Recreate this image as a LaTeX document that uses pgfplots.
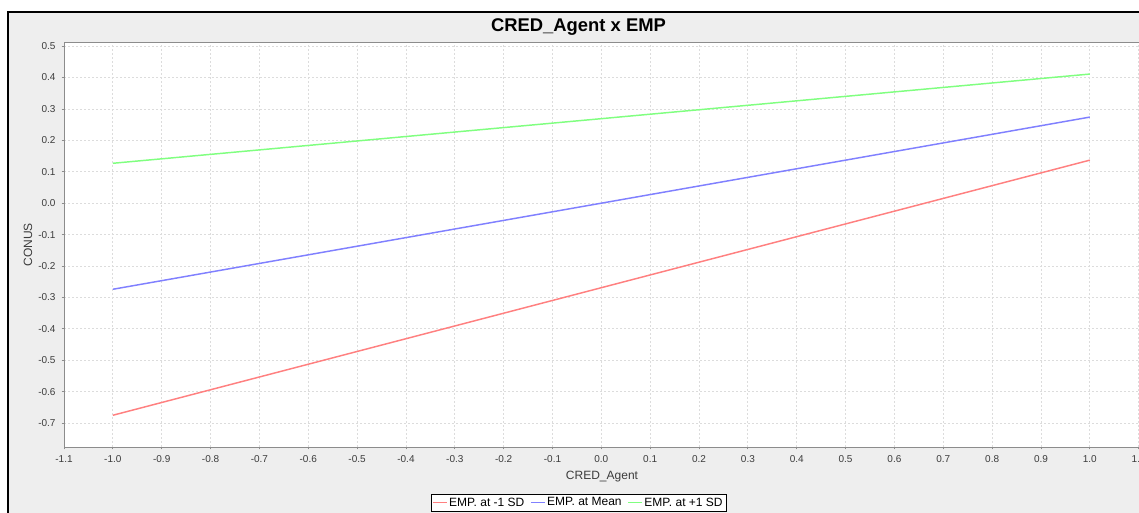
\documentclass[border=0pt]{standalone}
\usepackage{fontspec}
\setmainfont{Liberation Sans}
\usepackage{pgfplots}
\pgfplotsset{compat=1.18}
\definecolor{panel}{RGB}{238,238,238}
\definecolor{gridc}{RGB}{220,220,220}
\definecolor{axc}{RGB}{140,140,140}
\definecolor{tickc}{RGB}{60,60,60}
\definecolor{lred}{RGB}{255,128,128}
\definecolor{lblue}{RGB}{128,128,255}
\definecolor{lgreen}{RGB}{128,255,128}
\begin{document}
\begin{tikzpicture}[x=0.75pt,y=0.75pt]
\useasboundingbox (0,0) rectangle (1139,513);
\clip (0,0) rectangle (1139,513);
\fill[panel] (8,-5) rectangle (1160,501);
\draw[black,line width=0.9pt] (8,-5) -- (8,501) -- (1160,501);
\begin{axis}[
  at={(48pt,49.5pt)}, anchor=south west,
  scale only axis,
  width=808.5pt, height=303.75pt,
  xmin=-1.1, xmax=1.1068,
  ymin=-0.776, ymax=0.513,
  axis background/.style={fill=white},
  axis line style={axc, line width=0.6pt},
  xtick={-1.1,-1.0,-0.9,-0.8,-0.7,-0.6,-0.5,-0.4,-0.3,-0.2,-0.1,0,0.1,0.2,0.3,0.4,0.5,0.6,0.7,0.8,0.9,1.0,1.1},
  ytick={-0.7,-0.6,-0.5,-0.4,-0.3,-0.2,-0.1,0,0.1,0.2,0.3,0.4,0.5},
  xtick pos=bottom, ytick pos=left,
  tick align=outside,
  major tick length=1.8pt,
  tick style={axc, line width=0.6pt},
  grid=major,
  major grid style={gridc, line width=0.6pt, dash pattern=on 1.5pt off 1.5pt},
  /pgf/number format/assume math mode=true,
  /pgf/number format/.cd, fixed, fixed zerofill, precision=1, /pgfplots/.cd,
  tick label style={font=\fontsize{7.5}{9}\selectfont, text=tickc},
  xticklabel style={yshift=-1pt},
  yticklabel style={xshift=-1pt},
  legend style={at={(axis description cs:0.4773,0)}, anchor=north, yshift=-35.2pt,
    draw=black, line width=0.6pt, fill=white, inner sep=1pt,
    font=\fontsize{9}{10}\selectfont, legend cell align=left,
    nodes={inner sep=1.5pt}},
  legend columns=3,
  legend image code/.code={\draw[#1, line width=0.6pt] (0pt,0pt) -- (10.5pt,0pt);},
  /tikz/every even column/.append style={column sep=3pt},
]
\addplot[lred, line width=1.1pt] coordinates {(-1.0,-0.675) (1.0,0.137)};
\addlegendentry{EMP. at -1 SD}
\addplot[lblue, line width=1.1pt] coordinates {(-1.0,-0.274) (1.0,0.274)};
\addlegendentry{EMP. at Mean}
\addplot[lgreen, line width=1.1pt] coordinates {(-1.0,0.127) (1.0,0.411)};
\addlegendentry{EMP. at +1 SD}
\end{axis}
\node[font=\bfseries\fontsize{13.8}{16}\selectfont] at (578.5,486) {CRED\_Agent x EMP};
\node[font=\fontsize{9}{11}\selectfont, text=tickc] at (602,36) {CRED\_Agent};
\node[font=\fontsize{9}{11}\selectfont, text=tickc, rotate=90] at (28,268) {CONUS};
\end{tikzpicture}
\end{document}
